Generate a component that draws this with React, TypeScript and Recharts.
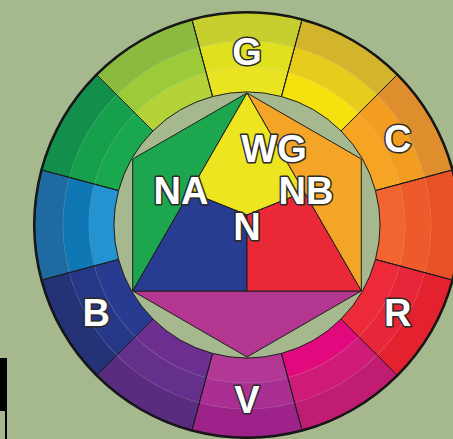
import React from 'react';
import { PieChart, Pie, Cell, ScatterChart, Scatter, XAxis, YAxis } from 'recharts';

// twelve hues, clockwise from the top
const SEGMENTS = ['G', 'GC', 'C', 'CR', 'R', 'RV', 'V', 'VB', 'B', 'BNA', 'NA', 'NAG'];
const RING_LABELS = ['G', '', 'C', '', 'R', '', 'V', '', 'B', '', '', ''];

const OUTER_SHADES = ['#c7cf2e', '#d2b52d', '#de8e2d', '#e95127', '#e4212e', '#c01d72', '#9d2289', '#5a2c80', '#243278', '#1f6aa0', '#12904b', '#8aba3f'];
const MIDDLE_SHADES = ['#e1e01f', '#e7cc1b', '#f29d20', '#ef5a2b', '#e8263a', '#d01a78', '#a92f93', '#64308c', '#273788', '#0f78b4', '#17a04b', '#9bcb39'];
const INNER_SHADES = ['#e9e321', '#f5e10e', '#f5a523', '#f26430', '#ec2a3a', '#e2097f', '#b33895', '#6c2f90', '#283b90', '#2593d1', '#1aa84e', '#b3d338'];

// inner figure, in units of the hexagon radius
const GREEN_TRI = [{ x: 0, y: 1 }, { x: -0.866, y: 0.5 }, { x: -0.866, y: -0.5 }];
const ORANGE_TRI = [{ x: 0, y: 1 }, { x: 0.866, y: 0.5 }, { x: 0.866, y: -0.5 }];
const VIOLET_TRI = [{ x: -0.866, y: -0.5 }, { x: 0, y: -1 }, { x: 0.866, y: -0.5 }];
const YELLOW_PART = [{ x: 0, y: 1 }, { x: -0.433, y: 0.25 }, { x: 0, y: 0.076 }, { x: 0.433, y: 0.25 }];
const BLUE_PART = [{ x: -0.866, y: -0.5 }, { x: -0.433, y: 0.25 }, { x: 0, y: 0.076 }, { x: 0, y: -0.5 }];
const RED_PART = [{ x: 0.866, y: -0.5 }, { x: 0.433, y: 0.25 }, { x: 0, y: 0.076 }, { x: 0, y: -0.5 }];

const INNER_TAGS = [
  { x: 0.205, y: 0.583, text: 'WG' },
  { x: -0.5, y: 0.265, text: 'NA' },
  { x: 0.447, y: 0.265, text: 'NB' },
  { x: 0, y: -0.008, text: 'N' },
];

const W = 453;
const H = 439;
const CX = 247;
const CY = 225;
const UNIT = 132;
const BG = '#a6b98e';
const LINE = '#1d1d1d';

const ringData = SEGMENTS.map((name) => ({ name, value: 1 }));

const tagStyle: React.CSSProperties = {
  fontFamily: '"Liberation Sans", Arial, sans-serif',
  fontWeight: 700,
  fontSize: 38,
  fill: '#ffffff',
  stroke: '#2b2b2b',
  strokeWidth: 3,
  paintOrder: 'stroke',
  strokeLinejoin: 'round',
};

const RAD = Math.PI / 180;

const renderRingLabel = (props: any) => {
  const text = RING_LABELS[props.index];
  if (!text) return <g key={props.index} />;
  const r = (props.innerRadius + props.outerRadius) / 2 + 1;
  const x = props.cx + r * Math.cos(-props.midAngle * RAD);
  const y = props.cy + r * Math.sin(-props.midAngle * RAD);
  return (
    <text key={props.index} x={x} y={y + 13.5} textAnchor="middle" style={tagStyle}>
      {text}
    </text>
  );
};

const polygonLine = (fill: string) => (props: any) => {
  const pts = (props.points || []).map((p: any) => `${p.x},${p.y}`).join(' ');
  return <polygon points={pts} fill={fill} stroke={LINE} strokeWidth={1} strokeLinejoin="round" />;
};

const noDot = () => <g />;

const renderTag = (props: any) => (
  <text x={props.cx} y={props.cy + 13.5} textAnchor="middle" style={tagStyle}>
    {props.payload.text}
  </text>
);

const ring = (shades: string[], inner: number, outer: number, key: string) => (
  <Pie
    key={key}
    data={ringData}
    dataKey="value"
    cx={CX}
    cy={CY}
    innerRadius={inner}
    outerRadius={outer}
    startAngle={105}
    endAngle={-255}
    stroke="none"
    isAnimationActive={false}
  >
    {shades.map((c, i) => (
      <Cell key={i} fill={c} stroke={c} strokeWidth={0.5} />
    ))}
  </Pie>
);

const App: React.FC = () => {
  return (
    <div style={{ position: 'absolute', left: 0, top: 0, width: W, height: H, background: BG, overflow: 'hidden' }}>
      <div style={{ position: 'absolute', left: 0, top: 0 }}>
        <PieChart width={W} height={H} margin={{ top: 0, right: 0, bottom: 0, left: 0 }}>
          {ring(INNER_SHADES, 133, 158, 'inner')}
          {ring(MIDDLE_SHADES, 158, 184, 'middle')}
          {ring(OUTER_SHADES, 184, 213, 'outer')}
          <Pie data={[{ value: 1 }]} dataKey="value" cx={CX} cy={CY} innerRadius={157.6} outerRadius={158.4} fill="rgba(255,255,255,0.16)" stroke="none" isAnimationActive={false} />
          <Pie data={[{ value: 1 }]} dataKey="value" cx={CX} cy={CY} innerRadius={183.6} outerRadius={184.4} fill="rgba(255,255,255,0.16)" stroke="none" isAnimationActive={false} />
          <Pie data={[{ value: 1 }]} dataKey="value" cx={CX} cy={CY} innerRadius={211.5} outerRadius={214} fill="#111" stroke="none" isAnimationActive={false} />
          <Pie
            data={ringData}
            dataKey="value"
            cx={CX}
            cy={CY}
            innerRadius={133}
            outerRadius={213}
            startAngle={105}
            endAngle={-255}
            fill="none"
            stroke={LINE}
            strokeWidth={1}
            label={renderRingLabel}
            labelLine={false}
            isAnimationActive={false}
          />
        </PieChart>
      </div>
      <div style={{ position: 'absolute', left: 0, top: 0 }}>
        <ScatterChart width={W} height={H} margin={{ top: 0, right: 0, bottom: 0, left: 0 }}>
          <XAxis type="number" dataKey="x" domain={[-CX / UNIT, (W - CX) / UNIT]} allowDataOverflow hide />
          <YAxis type="number" dataKey="y" domain={[(CY - H) / UNIT, CY / UNIT]} allowDataOverflow hide />
          <Scatter data={GREEN_TRI} line={polygonLine('#1ca64e')} shape={noDot} isAnimationActive={false} />
          <Scatter data={ORANGE_TRI} line={polygonLine('#f4a527')} shape={noDot} isAnimationActive={false} />
          <Scatter data={VIOLET_TRI} line={polygonLine('#b33690')} shape={noDot} isAnimationActive={false} />
          <Scatter data={YELLOW_PART} line={polygonLine('#ede51f')} shape={noDot} isAnimationActive={false} />
          <Scatter data={BLUE_PART} line={polygonLine('#283c91')} shape={noDot} isAnimationActive={false} />
          <Scatter data={RED_PART} line={polygonLine('#e92838')} shape={noDot} isAnimationActive={false} />
          <Scatter data={INNER_TAGS} shape={renderTag} isAnimationActive={false} />
        </ScatterChart>
      </div>
      <div style={{ position: 'absolute', left: 0, top: 358, width: 7, height: 53, background: '#000' }} />
      <div style={{ position: 'absolute', left: 5, top: 411, width: 2, height: 28, background: '#000' }} />
    </div>
  );
};

export default App;
